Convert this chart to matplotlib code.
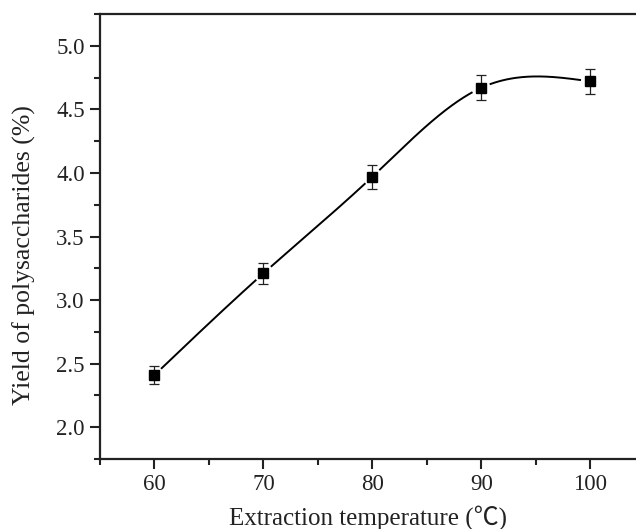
import numpy as np
import matplotlib
matplotlib.use('Agg')
import matplotlib.pyplot as plt
from matplotlib.ticker import MultipleLocator, FormatStrFormatter

plt.rcParams['font.family'] = ['Liberation Serif', 'Noto Sans CJK SC', 'DejaVu Serif']

# data
temperature = np.array([60, 70, 80, 90, 100])
yield_pct = np.array([2.41, 3.21, 3.97, 4.67, 4.72])
yield_err = np.array([0.07, 0.08, 0.095, 0.10, 0.10])


def natural_spline(x, y, xs):
    # natural cubic spline through the points (like Origin's spline connector)
    n = len(x)
    h = np.diff(x).astype(float)
    A = np.zeros((n, n))
    b = np.zeros(n)
    A[0, 0] = A[-1, -1] = 1.0
    for i in range(1, n - 1):
        A[i, i - 1] = h[i - 1]
        A[i, i] = 2 * (h[i - 1] + h[i])
        A[i, i + 1] = h[i]
        b[i] = 6 * ((y[i + 1] - y[i]) / h[i] - (y[i] - y[i - 1]) / h[i - 1])
    M = np.linalg.solve(A, b)
    out = np.empty_like(xs, dtype=float)
    for k, xv in enumerate(xs):
        i = min(np.searchsorted(x, xv, side='right') - 1, n - 2)
        i = max(i, 0)
        a = x[i + 1] - xv
        c = xv - x[i]
        out[k] = (M[i] * a ** 3 + M[i + 1] * c ** 3) / (6 * h[i]) \
            + (y[i] / h[i] - M[i] * h[i] / 6) * a \
            + (y[i + 1] / h[i] - M[i + 1] * h[i] / 6) * c
    return out


fig = plt.figure(figsize=(6.36, 5.29), dpi=100)
ax = fig.add_axes([0.1572, 0.1323, 0.8428, 0.8412])

xs = np.linspace(temperature[0], temperature[-1], 600)
ys = natural_spline(temperature, yield_pct, xs)

ax.set_xlim(55, 104.2)
ax.set_ylim(1.75, 5.25)

# leave small gaps in the curve around each marker
px_x = 10.92
px_y = 126.9
for xi, yi in zip(temperature, yield_pct):
    d = np.hypot((xs - xi) * px_x, (ys - yi) * px_y)
    ys[d < 10] = np.nan

ax.plot(xs, ys, color='black', lw=1.4)
ax.errorbar(temperature, yield_pct, yerr=yield_err, fmt='s', color='black',
            markersize=7.5, ecolor='#222222', elinewidth=0.9, capsize=3.5,
            capthick=0.9)

ax.xaxis.set_major_locator(MultipleLocator(10))
ax.xaxis.set_minor_locator(MultipleLocator(5))
ax.yaxis.set_minor_locator(MultipleLocator(0.25))
ax.set_yticks([2.0, 2.5, 3.0, 3.5, 4.0, 4.5, 5.0])
ax.yaxis.set_major_formatter(FormatStrFormatter('%.1f'))

ax.tick_params(which='major', direction='out', length=7, width=1.5,
               labelsize=16.5, pad=4, colors='#222222')
ax.tick_params(which='minor', direction='out', length=4, width=1.5,
               colors='#222222')
ax.tick_params(top=False, right=False)

for side in ['left', 'bottom', 'top']:
    ax.spines[side].set_linewidth(1.6)
    ax.spines[side].set_color('#222222')
ax.spines['right'].set_visible(False)

ax.set_xlabel('Extraction temperature (℃)', fontsize=18, labelpad=7,
              color='#222222')
ax.set_ylabel('Yield of polysaccharides (%)', fontsize=18.5, color='#222222')
ax.yaxis.set_label_coords(-0.119, 0.458)

fig.savefig('out.png', dpi=100)
